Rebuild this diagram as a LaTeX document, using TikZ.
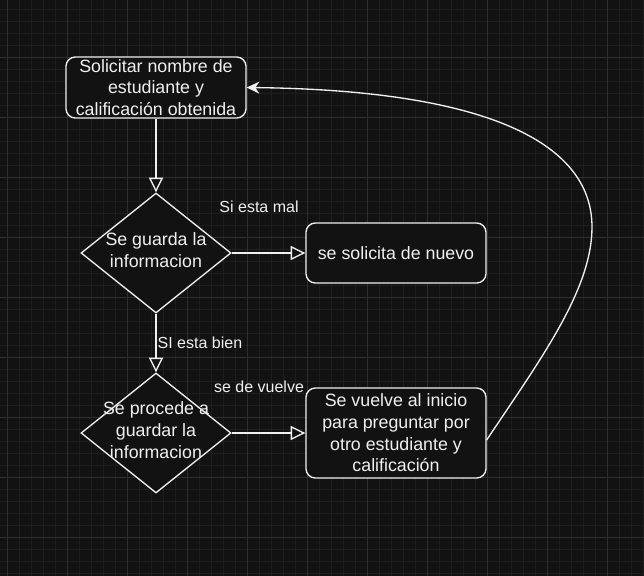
\documentclass[tikz,border=0pt]{standalone}
\usepackage{fontspec}
\setmainfont{Liberation Sans}
\usetikzlibrary{shapes.geometric,arrows.meta}
\definecolor{bgc}{HTML}{121212}
\definecolor{fgc}{HTML}{F0F0F0}
\definecolor{gridlo}{HTML}{1E1E1E}
\definecolor{gridhi}{HTML}{2E2E2E}

\begin{document}
\begin{tikzpicture}[x=0.75pt, y=-0.75pt,
    every node/.style={text=fgc},
    card/.style={draw=fgc, fill=bgc, line width=1pt, rounded corners=7pt, minimum width=135pt,
      align=center, inner sep=0pt, font=\fontsize{13.35pt}{16.3pt}\selectfont},
    check/.style={draw=fgc, fill=bgc, line width=1pt, diamond, minimum width=112.5pt,
      minimum height=90pt, inner sep=0pt},
    checktext/.style={align=center, inner sep=0pt, font=\fontsize{13.35pt}{16.3pt}\selectfont},
    flow/.style={draw=fgc, line width=1pt, -{Triangle[length=11pt, width=10.5pt, fill=bgc]}},
    back/.style={draw=fgc, line width=1pt, -{Stealth[length=9.5pt, width=9pt, inset=3pt]}},
    lbl/.style={font=\fontsize{12pt}{14pt}\selectfont, inner sep=0pt},
    side/.style={lbl, midway, xshift=-7.1pt, yshift=34.5pt}
  ]
    \fill[bgc] (0,0) rectangle (644,576);
    \useasboundingbox (0,0) rectangle (644,576);
    \foreach \gx in {7,19,...,643} \draw[gridlo, line width=0.75pt] (\gx,0) -- (\gx,576);
    \foreach \gy in {9,21,...,575} \draw[gridlo, line width=0.75pt] (0,\gy) -- (644,\gy);
    \foreach \gx in {7,67,...,643} \draw[gridhi, line width=0.75pt] (\gx,0) -- (\gx,576);
    \foreach \gy in {57,117,...,575} \draw[gridhi, line width=0.75pt] (0,\gy) -- (644,\gy);

    \node[card, minimum height=45.75pt] (ask) at (156,87.5) {Solicitar nombre de\\estudiante y\\calificación obtenida};
    \node[check] (save) at (156,253) {};
    \node[checktext] at ([yshift=2pt]save.center) {Se guarda la\\informacion};
    \node[card, minimum height=45pt] (again) at (396,253) {se solicita de nuevo};
    \node[check] (store) at (156,433) {};
    \node[checktext] at ([yshift=2pt]store.center) {Se procede a\\guardar la\\informacion};
    \node[card, minimum height=67.5pt] (restart) at (396,433) {Se vuelve al inicio\\para preguntar por\\otro estudiante y\\calificación};

    \draw[flow] (ask) -- (save);
    \draw[flow] (save) -- (again) node[side] {Si esta mal};
    \draw[flow] (save) -- (store) node[lbl, midway, anchor=west, xshift=0.75pt] {SI esta bien};
    \draw[flow] (store) -- (restart) node[side] {se de vuelve};
    \draw[back] ([yshift=-5.25pt]restart.east) .. controls (540,360) and (592,290) .. (592,227)
      .. controls (592,140) and (480,90) .. (ask.east);
\end{tikzpicture}
\end{document}
